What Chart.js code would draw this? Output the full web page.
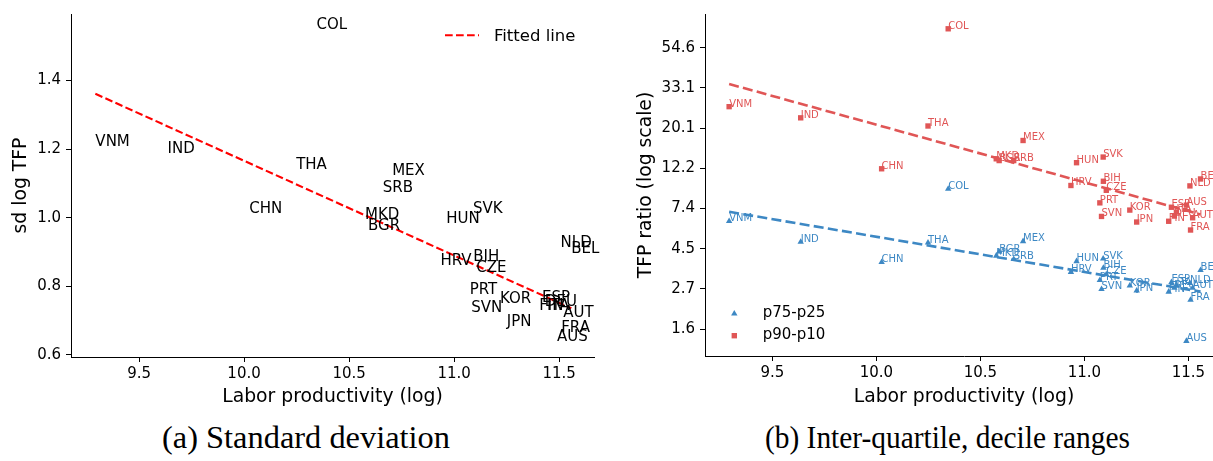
<!DOCTYPE html>
<html><head><meta charset="utf-8">
<script src="https://cdn.jsdelivr.net/npm/chart.js@4.4.0/dist/chart.umd.min.js"></script>
<style>
html,body{margin:0;padding:0;background:#fff;overflow:hidden;width:1213px;height:461px;}
#wrap{position:relative;width:1213px;height:461px;overflow:hidden;background:#fff;}
#c1{position:absolute;left:0;top:0;}
#c2{position:absolute;left:606px;top:0;}
.cap{position:absolute;top:422px;left:0;font-family:'Liberation Serif',serif;font-size:31px;line-height:31px;white-space:nowrap;color:#000;transform-origin:0 0;}
</style></head><body>
<div id="wrap">
<canvas id="c1" width="606" height="415"></canvas>
<canvas id="c2" width="640" height="415"></canvas>
<div class="cap" id="capA">(a) Standard deviation</div>
<div class="cap" id="capB">(b) Inter-quartile, decile ranges</div>
</div>
<script>
// ---- data ----
const countries = ['VNM','IND','CHN','THA','COL','MKD','BGR','SRB','MEX','HRV','HUN','PRT','SVN','BIH','SVK','CZE','KOR','JPN','FIN','ESP','DEU','ITA','AUS','FRA','NLD','AUT','BEL'];
const laborProd = [9.292,9.636,10.025,10.248,10.345,10.576,10.590,10.660,10.705,10.935,10.962,11.074,11.082,11.091,11.090,11.105,11.218,11.251,11.405,11.418,11.432,11.442,11.490,11.510,11.507,11.520,11.558];
const sdLogTFP  = [1.208,1.190,1.014,1.143,1.549,0.995,0.963,1.076,1.126,0.861,0.985,0.779,0.724,0.873,1.015,0.843,0.750,0.684,0.730,0.753,0.742,0.730,0.641,0.668,0.914,0.711,0.898];
const p75p25    = [6.3,4.87,3.79,4.83,9.42,4.10,4.32,3.93,4.91,3.35,3.83,3.03,2.71,3.53,3.96,3.25,2.83,2.66,2.62,2.95,2.75,2.85,1.42,2.37,2.92,2.75,3.43];
const p90p10    = [26.2,22.8,12.1,20.6,69.0,13.7,13.4,13.4,17.2,9.83,13.05,7.92,6.69,10.36,14.0,9.26,7.24,6.24,6.3,7.5,6.72,7.06,7.70,5.65,9.78,6.58,10.66];
// fitted lines: [intercept, slope]  (right panel fits are on ln scale)
const sdFit  = [3.926, -0.276];
const p75Fit = [6.028, -0.438];
const p90Fit = [10.201, -0.716];
const xTicks = [9.5, 10.0, 10.5, 11.0, 11.5];
const sdTicks = [0.6, 0.8, 1.0, 1.2, 1.4];
const ratioTickLogs = [0.5, 1.0, 1.5, 2.0, 2.5, 3.0, 3.5, 4.0];
const ratioTickLabels = ['1.6','2.7','4.5','7.4','12.2','20.1','33.1','54.6'];

// ---- styling ----
Chart.defaults.font.family = "'DejaVu Sans', sans-serif";
Chart.defaults.color = '#000';
const RED = '#e05656', BLUE = '#3d88c4';
const X_MIN = 9.176, X_MAX = 11.666;

const xs = laborProd;
const xLo = Math.min(...xs), xHi = Math.max(...xs);

const countryLabels = {
  id: 'countryLabels',
  afterDatasetsDraw(chart, args, opts) {
    const {ctx, scales: {x, y}} = chart;
    ctx.save();
    ctx.font = opts.font;
    ctx.textAlign = 'left';
    ctx.textBaseline = 'alphabetic';
    opts.sets.forEach(set => {
      ctx.fillStyle = set.color;
      chart.data.datasets[set.index].data.forEach((p, i) => {
        ctx.fillText(countries[i], x.getPixelForValue(p.x), y.getPixelForValue(p.y));
      });
    });
    ctx.restore();
  }
};

const legendA = {
  id: 'legendA',
  afterDraw(chart) {
    const {ctx, chartArea: a} = chart;
    ctx.save();
    const y = a.top + 21.3;
    ctx.strokeStyle = '#ff0000'; ctx.lineWidth = 2.1; ctx.setLineDash([7.7, 3.3]);
    ctx.beginPath(); ctx.moveTo(a.right - 149, y); ctx.lineTo(a.right - 115, y); ctx.stroke();
    ctx.setLineDash([]);
    ctx.fillStyle = '#000'; ctx.font = "16.5px 'DejaVu Sans'"; ctx.textBaseline = 'alphabetic';
    ctx.fillText('Fitted line', a.right - 100, a.top + 27.3);
    ctx.restore();
  }
};

const legendB = {
  id: 'legendB',
  afterDraw(chart) {
    const {ctx, chartArea: a} = chart;
    ctx.save();
    const mx = a.left + 29.3, y1 = a.bottom - 42.3, y2 = a.bottom - 20.3;
    ctx.fillStyle = BLUE;
    const r = 3.7;
    ctx.beginPath();
    ctx.moveTo(mx, y1 - r); ctx.lineTo(mx + r * 0.866, y1 + r / 2); ctx.lineTo(mx - r * 0.866, y1 + r / 2); ctx.closePath(); ctx.fill();
    ctx.fillStyle = RED;
    ctx.fillRect(mx - 2.7, y2 - 2.7, 5.4, 5.4);
    ctx.fillStyle = '#000'; ctx.font = "15px 'DejaVu Sans'"; ctx.textBaseline = 'alphabetic';
    ctx.fillText('p75-p25', a.left + 57.7, y1 + 3.5);
    ctx.fillText('p90-p10', a.left + 57.7, y2 + 3.5);
    ctx.restore();
  }
};

function xScale(heightPx) {
  return {
    type: 'linear', min: X_MIN, max: X_MAX,
    afterFit(s) { s.height = heightPx; },
    afterBuildTicks(s) { s.ticks = xTicks.map(v => ({value: v})); },
    ticks: {callback: v => Number(v).toFixed(1), font: {size: 15}, color: '#000', padding: 3, maxRotation: 0, autoSkip: false},
    grid: {drawOnChartArea: false, drawTicks: true, tickLength: 5, color: '#000'},
    border: {display: true, color: '#000', width: 1},
    title: {display: true, text: 'Labor productivity (log)', font: {size: 18.8}, color: '#000', padding: {top: 0, bottom: 7}}
  };
}

// ---- panel (a) ----
new Chart(document.getElementById('c1'), {
  type: 'scatter',
  data: {
    datasets: [
      {label: 'sd log TFP', data: countries.map((c, i) => ({x: laborProd[i], y: sdLogTFP[i]})), pointRadius: 0, pointHoverRadius: 0},
      {label: 'Fitted line', type: 'line', data: [xLo, xHi].map(x => ({x, y: sdFit[0] + sdFit[1] * x})),
       borderColor: '#ff0000', borderWidth: 2.1, borderDash: [7.7, 3.3], pointRadius: 0, fill: false, tension: 0}
    ]
  },
  options: {
    responsive: false, animation: false, devicePixelRatio: 1, events: [],
    layout: {padding: {left: 0, top: 12, right: 12, bottom: 0}, autoPadding: false},
    plugins: {legend: {display: false}, tooltip: {enabled: false},
      countryLabels: {font: "15px 'DejaVu Sans'", sets: [{index: 0, color: '#000'}]}},
    scales: {
      x: xScale(58),
      y: {
        type: 'linear', min: 0.594, max: 1.594,
        afterFit(s) { s.width = 71; },
        afterBuildTicks(s) { s.ticks = sdTicks.map(v => ({value: v})); },
        ticks: {callback: v => Number(v).toFixed(1), font: {size: 15}, color: '#000', padding: 5},
        grid: {drawOnChartArea: false, drawTicks: true, tickLength: 5, color: '#000'},
        border: {display: true, color: '#000', width: 1},
        title: {display: true, text: 'sd log TFP', font: {size: 18.8}, color: '#000', padding: {top: 10, bottom: 0}}
      }
    }
  },
  plugins: [countryLabels, legendA]
});

// ---- panel (b) ----
new Chart(document.getElementById('c2'), {
  type: 'scatter',
  data: {
    datasets: [
      {label: 'p90-p10', data: countries.map((c, i) => ({x: laborProd[i], y: p90p10[i]})),
       pointStyle: 'rect', pointRadius: 3.8, backgroundColor: RED, borderColor: RED, borderWidth: 0},
      {label: 'p75-p25', data: countries.map((c, i) => ({x: laborProd[i], y: p75p25[i]})),
       pointStyle: 'triangle', pointRadius: 3.7, backgroundColor: BLUE, borderColor: BLUE, borderWidth: 0},
      {label: 'fit p90-p10', type: 'line', data: [xLo, xHi].map(x => ({x, y: Math.exp(p90Fit[0] + p90Fit[1] * x)})),
       borderColor: RED, borderWidth: 2.6, borderDash: [10, 4.3], pointRadius: 0, fill: false, tension: 0},
      {label: 'fit p75-p25', type: 'line', data: [xLo, xHi].map(x => ({x, y: Math.exp(p75Fit[0] + p75Fit[1] * x)})),
       borderColor: BLUE, borderWidth: 2.6, borderDash: [10, 4.3], pointRadius: 0, fill: false, tension: 0}
    ]
  },
  options: {
    responsive: false, animation: false, devicePixelRatio: 1, events: [],
    layout: {padding: {left: 0, top: 13, right: 23, bottom: 0}, autoPadding: false},
    plugins: {legend: {display: false}, tooltip: {enabled: false},
      countryLabels: {font: "10px 'DejaVu Sans'", sets: [{index: 0, color: RED}, {index: 1, color: BLUE}]}},
    scales: {
      x: xScale(59),
      y: {
        type: 'logarithmic', min: Math.exp(0.165), max: Math.exp(4.418),
        afterFit(s) { s.width = 99; },
        afterBuildTicks(s) { s.ticks = ratioTickLogs.map(v => ({value: Math.exp(v)})); },
        ticks: {callback: (v) => { const k = ratioTickLogs.findIndex(l => Math.abs(Math.exp(l) - v) < 1e-6); return k >= 0 ? ratioTickLabels[k] : ''; },
                font: {size: 15}, color: '#000', padding: 5},
        grid: {drawOnChartArea: false, drawTicks: true, tickLength: 5, color: '#000'},
        border: {display: true, color: '#000', width: 1},
        title: {display: true, text: 'TFP ratio (log scale)', font: {size: 18.8}, color: '#000', padding: {top: 29, bottom: 0}}
      }
    }
  },
  plugins: [countryLabels, legendB]
});

// ---- captions ----
function placeCaption(id, left, width) {
  const el = document.getElementById(id);
  const w = el.getBoundingClientRect().width;
  el.style.left = left + 'px';
  el.style.transform = 'scaleX(' + (width / w) + ')';
}
placeCaption('capA', 162, 288);
placeCaption('capB', 765, 365);
</script>
</body></html>
